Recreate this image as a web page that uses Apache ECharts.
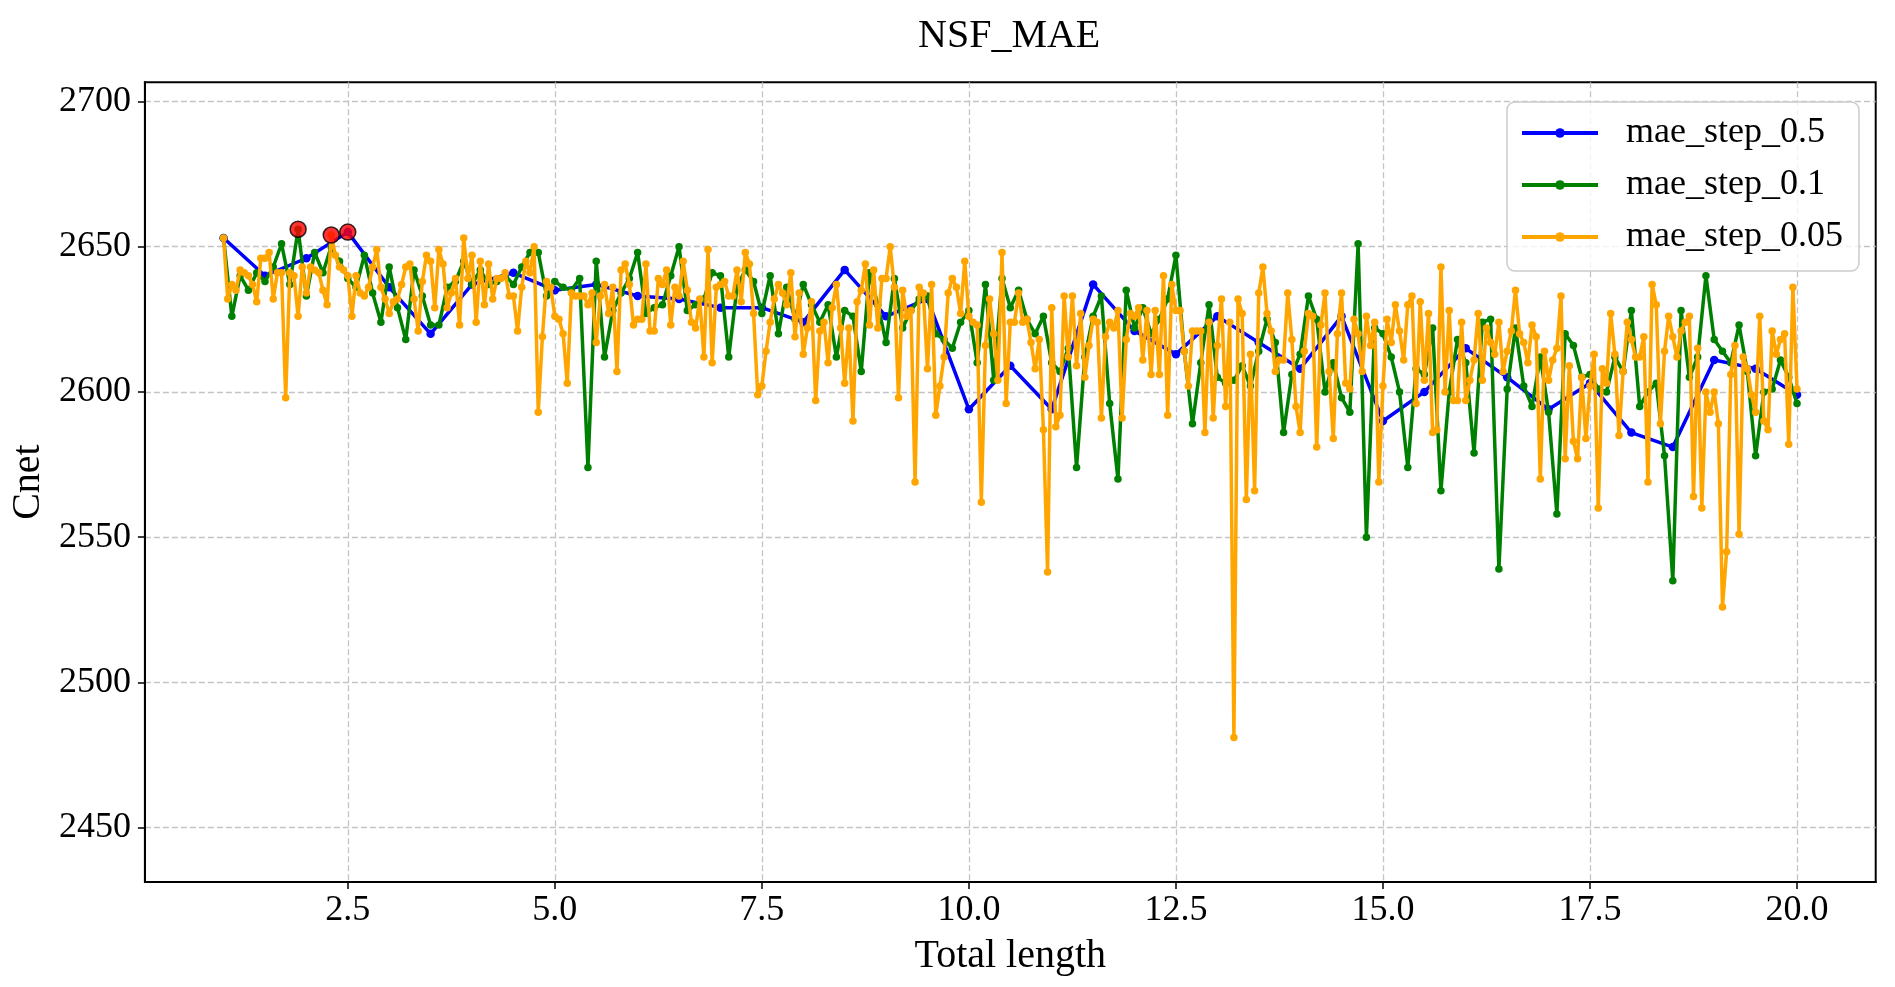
<!DOCTYPE html>
<html>
<head>
<meta charset="utf-8">
<script src="https://cdn.jsdelivr.net/npm/echarts@6/dist/echarts.min.js"></script>
<style>
html,body{margin:0;padding:0;background:#fff;}
#chart{width:1895px;height:987px;}
</style>
</head>
<body>
<div id="chart"></div>
<script>
// ---- data ----
const titleText = 'NSF_MAE';
const xName = 'Total length';
const yName = 'Cnet';
const seriesNames = ['mae_step_0.5', 'mae_step_0.1', 'mae_step_0.05'];
const seriesColors = ['#0000ff', '#008000', '#ffa500'];
const xStart = 1.0;
const steps = [0.5, 0.1, 0.05];
const xTicks = [2.5, 5.0, 7.5, 10.0, 12.5, 15.0, 17.5, 20.0];
const yTicks = [2450, 2500, 2550, 2600, 2650, 2700];

const blueValues = [2653, 2640, 2646, 2655, 2636, 2620, 2637, 2641, 2635, 2637,
  2633, 2632, 2629, 2629, 2624, 2642, 2626, 2632, 2594, 2609,
  2594, 2637, 2621, 2613, 2626, 2617, 2608, 2626, 2590, 2600,
  2615, 2605, 2594, 2603, 2586, 2581, 2611, 2608, 2599];

const greenValues = [
  2653, 2626, 2640, 2635, 2641, 2638, 2643, 2651, 2637, 2656,
  2633, 2648, 2641, 2650, 2645, 2639, 2636, 2647, 2634, 2624,
  2643, 2629, 2618, 2642, 2633, 2623, 2623, 2636, 2638, 2645,
  2637, 2642, 2637, 2638, 2640, 2637, 2643, 2648, 2648, 2633,
  2638, 2636, 2635, 2639, 2574, 2645, 2612, 2628, 2634, 2639,
  2648, 2627, 2629, 2630, 2640, 2650, 2628, 2630, 2632, 2641,
  2640, 2612, 2636, 2642, 2638, 2627, 2640, 2620, 2636, 2625,
  2637, 2630, 2624, 2630, 2612, 2628, 2626, 2607, 2641, 2630,
  2617, 2639, 2622, 2628, 2632, 2633, 2620, 2618, 2615, 2624,
  2628, 2610, 2637, 2604, 2639, 2629, 2635, 2625, 2620, 2626,
  2610, 2607, 2615, 2574, 2612, 2626, 2633, 2596, 2570, 2635,
  2622, 2629, 2620, 2625, 2632, 2647, 2614, 2589, 2610, 2630,
  2605, 2603, 2604, 2609, 2602, 2614, 2625, 2617, 2586, 2606,
  2613, 2633, 2625, 2600, 2610, 2598, 2593, 2651, 2550, 2622,
  2620, 2612, 2600, 2574, 2608, 2606, 2622, 2566, 2600, 2618,
  2610, 2579, 2624, 2625, 2539, 2601, 2622, 2602, 2595, 2612,
  2593, 2558, 2620, 2616, 2605, 2606, 2601, 2600, 2612, 2607,
  2628, 2595, 2600, 2603, 2578, 2535, 2628, 2605, 2612, 2640,
  2618, 2614, 2610, 2623, 2607, 2578, 2600, 2601, 2611, 2605,
  2596];

const orangeValues = [
  2653, 2632, 2637, 2635, 2642, 2641, 2640, 2637, 2631, 2646, 2646, 2648, 2632, 2641, 2641, 2598, 2641, 2640, 2626, 2643,
  2634, 2643, 2642, 2641, 2635, 2630, 2654, 2647, 2643, 2642, 2640, 2626, 2640, 2634, 2633, 2636, 2643, 2649, 2636, 2632,
  2627, 2631, 2632, 2637, 2643, 2644, 2632, 2621, 2638, 2647, 2645, 2629, 2649, 2644, 2629, 2634, 2639, 2623, 2653, 2639,
  2647, 2624, 2645, 2630, 2644, 2632, 2639, 2639, 2641, 2633, 2633, 2621, 2636, 2645, 2641, 2650, 2593, 2619, 2638, 2636,
  2626, 2625, 2620, 2603, 2634, 2633, 2633, 2633, 2630, 2634, 2617, 2633, 2637, 2627, 2636, 2607, 2642, 2644, 2637, 2623,
  2625, 2625, 2644, 2621, 2621, 2639, 2637, 2642, 2623, 2636, 2633, 2645, 2635, 2624, 2622, 2632, 2612, 2649, 2610, 2636,
  2637, 2638, 2633, 2633, 2642, 2631, 2648, 2644, 2627, 2599, 2602, 2614, 2624, 2632, 2637, 2634, 2630, 2641, 2619, 2634,
  2613, 2622, 2631, 2597, 2621, 2624, 2610, 2629, 2637, 2622, 2603, 2622, 2590, 2631, 2635, 2644, 2623, 2642, 2622, 2639,
  2639, 2650, 2636, 2598, 2635, 2626, 2628, 2569, 2636, 2634, 2608, 2637, 2592, 2602, 2612, 2634, 2639, 2636, 2627, 2645,
  2626, 2624, 2623, 2562, 2616, 2632, 2620, 2604, 2648, 2596, 2624, 2624, 2634, 2624, 2625, 2617, 2608, 2618, 2587, 2538,
  2629, 2588, 2592, 2633, 2612, 2633, 2609, 2627, 2605, 2616, 2625, 2624, 2591, 2619, 2624, 2622, 2628, 2591, 2618, 2627,
  2626, 2629, 2611, 2628, 2606, 2628, 2606, 2640, 2592, 2637, 2628, 2628, 2614, 2602, 2621, 2621, 2621, 2586, 2624, 2591,
  2616, 2632, 2595, 2624, 2481, 2632, 2627, 2563, 2613, 2566, 2634, 2643, 2627, 2621, 2607, 2611, 2611, 2634, 2618, 2595,
  2586, 2614, 2627, 2626, 2581, 2623, 2634, 2607, 2584, 2620, 2634, 2603, 2601, 2625, 2620, 2607, 2626, 2616, 2624, 2569,
  2602, 2625, 2617, 2630, 2621, 2611, 2630, 2633, 2596, 2631, 2604, 2627, 2586, 2587, 2643, 2600, 2628, 2597, 2597, 2624,
  2597, 2604, 2611, 2627, 2604, 2622, 2617, 2613, 2624, 2607, 2614, 2621, 2635, 2620, 2617, 2610, 2623, 2619, 2570, 2614,
  2604, 2611, 2615, 2633, 2577, 2609, 2583, 2577, 2605, 2584, 2602, 2613, 2560, 2608, 2603, 2627, 2613, 2585, 2607, 2624,
  2618, 2612, 2612, 2619, 2569, 2637, 2630, 2589, 2614, 2626, 2619, 2612, 2621, 2624, 2626, 2564, 2615, 2560, 2600, 2593,
  2600, 2589, 2526, 2545, 2606, 2616, 2551, 2612, 2608, 2599, 2593, 2626, 2590, 2587, 2621, 2613, 2618, 2620, 2582, 2636,
  2601];

const allValues = [blueValues, greenValues, orangeValues];

// ---- build ----
const FONT = "'Liberation Serif', 'Times New Roman', serif";
function toPairs(vals, step) {
  return vals.map((v, i) => [+(xStart + i * step).toFixed(2), v]);
}
const pairs = allValues.map((vals, k) => toPairs(vals, steps[k]));
const maxPoints = pairs.map(p => p.reduce((a, b) => (b[1] > a[1] ? b : a)));

const symbolSizes = [8.5, 7.5, 7.5];
const lineSeries = pairs.map((p, k) => ({
  name: seriesNames[k],
  type: 'line',
  data: p,
  symbol: 'circle',
  symbolSize: symbolSizes[k],
  showSymbol: true,
  color: seriesColors[k],
  lineStyle: { width: 3.5, color: seriesColors[k] },
  itemStyle: { color: seriesColors[k] },
  z: 2 + k,
  animation: false
}));

const chart = echarts.init(document.getElementById('chart'), null, { renderer: 'canvas' });
chart.setOption({
  animation: false,
  backgroundColor: '#ffffff',
  title: {
    text: titleText,
    left: 918,
    top: 16,
    padding: 0,
    textStyle: { fontFamily: FONT, fontSize: 40, fontWeight: 'normal', color: '#000' }
  },
  legend: {
    data: seriesNames,
    orient: 'vertical',
    left: 1507,
    top: 102,
    itemWidth: 76,
    itemHeight: 12,
    itemGap: 12,
    padding: [11, 16, 14, 13],
    borderColor: '#cccccc',
    borderWidth: 1.5,
    borderRadius: 8,
    backgroundColor: 'rgba(255,255,255,0.8)',
    lineStyle: { width: 4 },
    itemStyle: { borderWidth: 0 },
    textStyle: { fontFamily: FONT, fontSize: 36, lineHeight: 40, color: '#000', padding: [0, 0, 0, 23] }
  },
  grid: {
    left: 143.6,
    top: 82.2,
    width: 1732.1,
    height: 799.8,
    show: true,
    borderColor: '#000',
    borderWidth: 2,
    backgroundColor: 'transparent',
    containLabel: false
  },
  xAxis: {
    type: 'value',
    min: 0.05,
    max: 20.95,
    name: xName,
    nameLocation: 'middle',
    nameGap: 54,
    nameTextStyle: { fontFamily: FONT, fontSize: 40, color: '#000' },
    axisLine: { show: true, onZero: false, lineStyle: { color: '#000', width: 2 } },
    axisTick: { show: true, length: 7, customValues: xTicks, lineStyle: { color: '#000', width: 1.5 } },
    axisLabel: {
      customValues: xTicks,
      margin: 11,
      fontFamily: FONT, fontSize: 36, color: '#000',
      formatter: v => Number(v).toFixed(1)
    },
    splitLine: { show: true, lineStyle: { color: '#c4c4c4', width: 1.3, type: [6, 3] } }
  },
  yAxis: {
    type: 'value',
    min: 2431.3,
    max: 2706.6,
    name: yName,
    nameLocation: 'middle',
    nameGap: 94,
    nameRotate: 90,
    nameTextStyle: { fontFamily: FONT, fontSize: 40, color: '#000' },
    axisLine: { show: true, onZero: false, lineStyle: { color: '#000', width: 2 } },
    axisTick: { show: true, length: 7, customValues: yTicks, lineStyle: { color: '#000', width: 1.5 } },
    axisLabel: {
      customValues: yTicks,
      margin: 14,
      fontFamily: FONT, fontSize: 36, color: '#000',
      formatter: v => String(Math.round(v))
    },
    splitLine: { show: true, lineStyle: { color: '#c4c4c4', width: 1.3, type: [6, 3] } }
  },
  series: lineSeries.concat([{
    name: 'max',
    type: 'scatter',
    data: maxPoints,
    symbol: 'circle',
    symbolSize: 16,
    itemStyle: { color: '#ff0000', borderColor: '#000', borderWidth: 1.5 },
    z: 10,
    animation: false
  }])
});
</script>
</body>
</html>
